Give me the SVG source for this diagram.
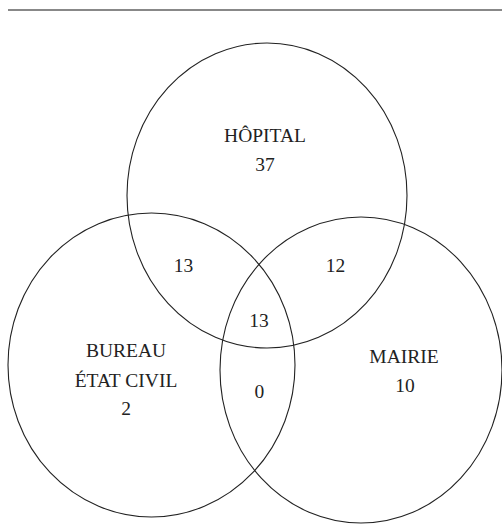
<svg xmlns="http://www.w3.org/2000/svg" width="502" height="527" viewBox="0 0 502 527">
<style>
.c{fill:none;stroke:#222;stroke-width:1.1}
.t{font-family:"Liberation Serif","Times New Roman",serif;font-size:19.5px;fill:#222;text-anchor:middle}
</style>
<rect width="502" height="527" fill="#fff"/>
<line x1="8" y1="10" x2="502" y2="10" stroke="#888" stroke-width="2"/>
<g id="hopital">
<ellipse class="c" cx="267" cy="195.5" rx="140" ry="152.5"/>
<text class="t" x="265" y="141.5">HÔPITAL</text>
<text class="t" x="265" y="171">37</text>
</g>
<g id="bureau">
<ellipse class="c" cx="151.5" cy="365" rx="143.5" ry="152"/>
<text class="t" x="126" y="357">BUREAU</text>
<text class="t" x="126" y="386.5">ÉTAT CIVIL</text>
<text class="t" x="126" y="415">2</text>
</g>
<g id="mairie">
<ellipse class="c" cx="361" cy="370" rx="141" ry="153"/>
<text class="t" x="404" y="362.5">MAIRIE</text>
<text class="t" x="405" y="392">10</text>
</g>
<g id="overlaps">
<text class="t" x="183.5" y="271.5">13</text>
<text class="t" x="335.5" y="271.5">12</text>
<text class="t" x="259" y="326.5">13</text>
<text class="t" x="259.3" y="398">0</text>
</g>
</svg>
